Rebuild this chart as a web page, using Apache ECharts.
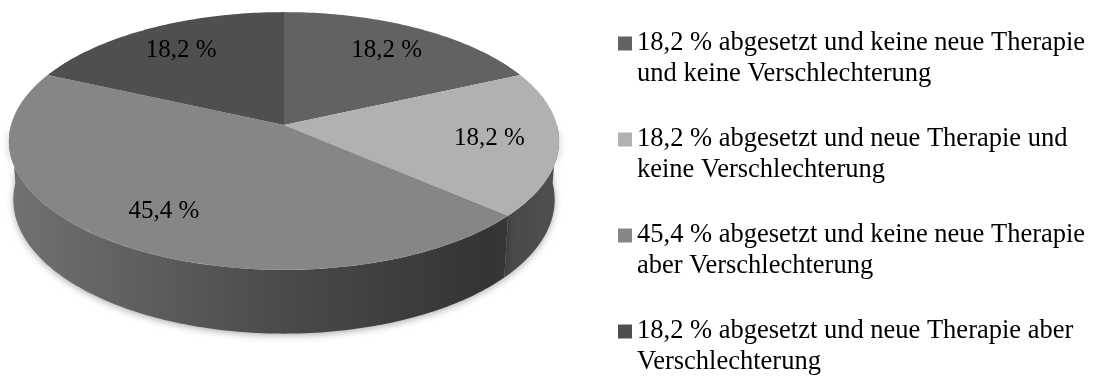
<!DOCTYPE html>
<html>
<head>
<meta charset="utf-8">
<script src="https://cdn.jsdelivr.net/npm/echarts@6/dist/echarts.min.js"></script>
<style>
  html, body { margin: 0; padding: 0; background: #ffffff; }
  #chart { width: 1093px; height: 380px; }
</style>
</head>
<body>
<div id="chart"></div>
<script>
// Shares of the four outcome groups (percent), clockwise from 12 o'clock
const shares = [18.2, 18.2, 45.4, 18.2];

// Legend descriptions (line break where the text wraps)
const descriptions = [
  'abgesetzt und keine neue Therapie\nund keine Verschlechterung',
  'abgesetzt und neue Therapie und\nkeine Verschlechterung',
  'abgesetzt und keine neue Therapie\naber Verschlechterung',
  'abgesetzt und neue Therapie aber\nVerschlechterung'
];

// Top-face colours of the slices
const sliceColors = ['#626262', '#b1b1b1', '#868686', '#4f4f4f'];

const FONT = '"Liberation Serif", "Times New Roman", serif';

function fmtPercent(v) {
  return v.toFixed(1).replace('.', ',') + ' %';
}

// Simple perspective camera for a tilted disc of radius 1
const VIEW = {
  cx: 284, cy: 125,      // screen position of the disc centre
  focal: 1949,           // focal length in px
  dist: 7.14,            // camera distance in disc radii
  tilt: 27.7 * Math.PI / 180,
  thickness: 0.245,      // disc height in radii
  labelRadius: 0.75
};
const cosT = Math.cos(VIEW.tilt), sinT = Math.sin(VIEW.tilt);

// theta: angle clockwise from the back (12 o'clock), r: radius, h: height (0 = top face)
function project(theta, r, h) {
  const X = r * Math.sin(theta);
  const Z = r * Math.cos(theta);
  const yc = h * cosT + Z * sinT;
  const zc = -h * sinT + Z * cosT + VIEW.dist;
  return [VIEW.cx + VIEW.focal * X / zc, VIEW.cy - VIEW.focal * yc / zc];
}

function shade(hex, f) {
  const n = parseInt(hex.slice(1), 16);
  const c = [(n >> 16) & 255, (n >> 8) & 255, n & 255].map(v => Math.round(Math.min(255, v * f)));
  return 'rgb(' + c.join(',') + ')';
}

// Side-wall lighting from left (lit) to right (shadowed)
const wallLight = [[0, 0.84], [0.5, 0.55], [0.87, 0.39], [1, 0.45]];

const total = shares.reduce((a, b) => a + b, 0);

function makeRenderer(idx) {
  return function (params, api) {
    const value = api.value(0);
    let before = 0;
    for (let k = 0; k < idx; k++) before += shares[k];
    const start = before / total * Math.PI * 2;
    const end = start + value / total * Math.PI * 2;
    const color = sliceColors[idx];
    const children = [];

    // Outer wall: only the front half is visible
    const a = Math.max(start, Math.PI / 2);
    const b = Math.min(end, Math.PI * 1.5);
    if (a < b) {
      const pts = [];
      const steps = Math.max(2, Math.ceil((b - a) / (Math.PI / 180)));
      for (let s = 0; s <= steps; s++) pts.push(project(a + (b - a) * s / steps, 1, 0));
      for (let s = steps; s >= 0; s--) pts.push(project(a + (b - a) * s / steps, 1, -VIEW.thickness));
      const left = project(Math.PI * 1.5, 1, 0)[0];
      const right = project(Math.PI / 2, 1, 0)[0];
      children.push({
        type: 'polygon',
        z2: 0,
        shape: { points: pts },
        style: {
          fill: new echarts.graphic.LinearGradient(left, 0, right, 0,
            wallLight.map(([o, f]) => ({ offset: o, color: shade(color, f) })), true),
          shadowColor: 'rgba(0,0,0,0.30)',
          shadowBlur: 7,
          shadowOffsetY: 2
        }
      });
    }

    // Top face
    const top = [project(0, 0, 0)];
    const steps = Math.max(2, Math.ceil((end - start) / (Math.PI / 180)));
    for (let s = 0; s <= steps; s++) top.push(project(start + (end - start) * s / steps, 1, 0));
    children.push({
      type: 'polygon',
      z2: 1,
      shape: { points: top },
      style: { fill: color }
    });

    // Value label
    const mid = (start + end) / 2;
    const lp = project(mid, VIEW.labelRadius, 0);
    children.push({
      type: 'text',
      z2: 2,
      x: lp[0], y: lp[1],
      style: {
        text: fmtPercent(value),
        fill: '#000000',
        font: '25px ' + FONT,
        align: 'center',
        verticalAlign: 'middle'
      }
    });

    return { type: 'group', children: children };
  };
}

const series = shares.map((v, i) => ({
  type: 'custom',
  name: fmtPercent(v) + ' ' + descriptions[i],
  coordinateSystem: 'none',
  itemStyle: { color: sliceColors[i] },
  renderItem: makeRenderer(i),
  data: [v],
  animation: false,
  silent: true
}));

const chart = echarts.init(document.getElementById('chart'), null, { renderer: 'canvas' });
chart.setOption({
  backgroundColor: '#ffffff',
  animation: false,
  legend: {
    orient: 'vertical',
    left: 618,
    top: 28,
    padding: 0,
    itemGap: 34,
    itemWidth: 14,
    itemHeight: 45,
    // square sits beside the first text line
    icon: 'path://M0,0L14,0L14,14L0,14Z M0,45L0.01,45L0,45Z',
    selectedMode: false,
    textStyle: {
      fontFamily: FONT,
      fontSize: 26.5,
      lineHeight: 31,
      color: '#000000',
      padding: [0, 0, 0, 0]
    },
    data: series.map(s => s.name)
  },
  series: series
});
</script>
</body>
</html>
